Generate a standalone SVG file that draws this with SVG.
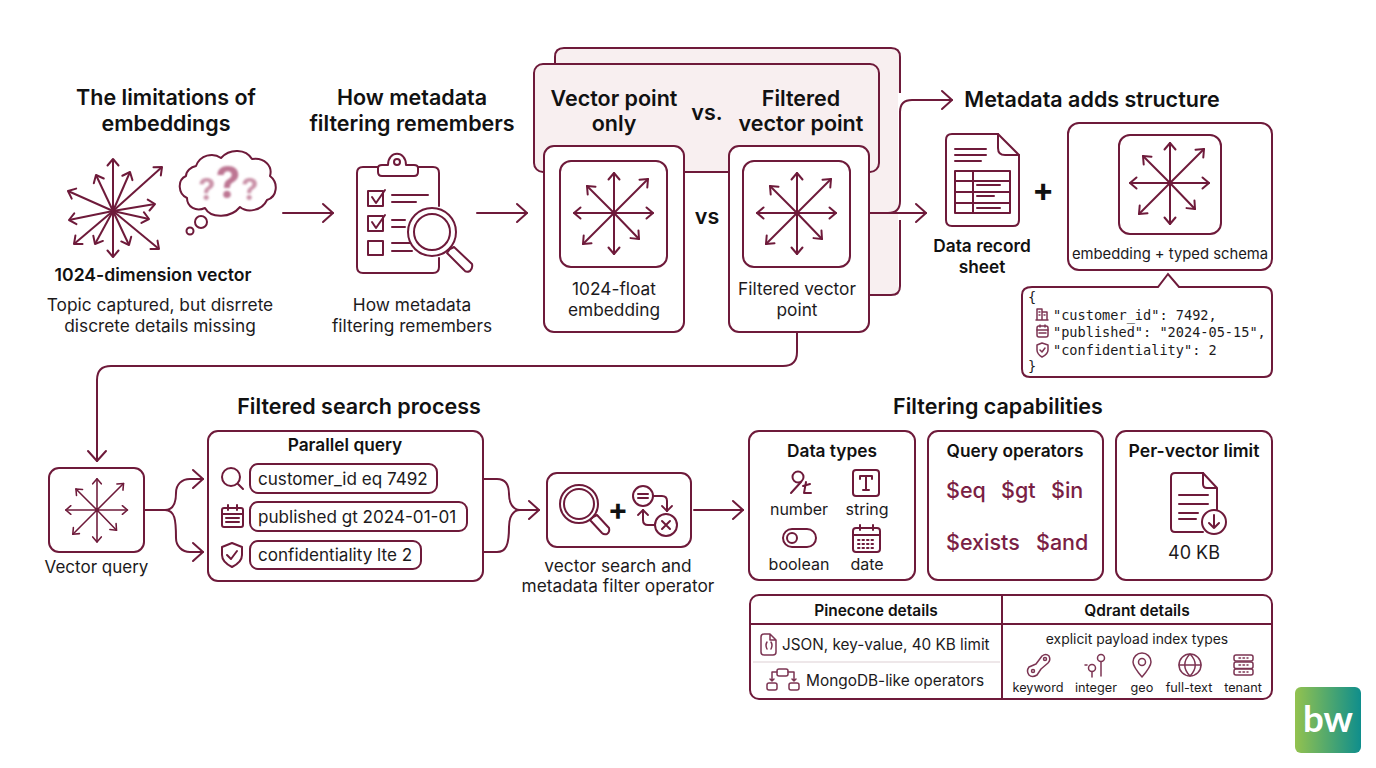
<svg xmlns="http://www.w3.org/2000/svg" xmlns:xlink="http://www.w3.org/1999/xlink" width="1376" height="768" viewBox="0 0 1376 768">
<style>
text{font-family:Inter,"Liberation Sans",sans-serif;fill:#1c1a1c;text-anchor:middle}
.t{font-size:21.5px;font-weight:600;fill:#111}
.b{font-size:17.3px;font-weight:600;fill:#111}
.s{font-size:17.3px}
.l{font-size:16px}
.xs{font-size:12.7px}
.op{font-size:21.5px;font-weight:500;fill:#7a1f45;text-anchor:start}
.m{font-family:"DejaVu Sans Mono","Liberation Mono",monospace;font-size:13.6px;text-anchor:start}
.st{text-anchor:start}
.ln,.ln path,.ln rect,.ln circle,.ln line{fill:none;stroke:#6e1a3a;stroke-width:2;stroke-linecap:round;stroke-linejoin:round}
.card{fill:#fff;stroke:#6e1a3a;stroke-width:2}
.pink{fill:#f8eff0;stroke:#6e1a3a;stroke-width:2}
.w{fill:#fff!important}
.ic,.ic path,.ic rect,.ic circle,.ic line{fill:none;stroke:#7c3553;stroke-width:1.5;stroke-linecap:round;stroke-linejoin:round}
</style>
<defs>
<marker id="arr" markerUnits="userSpaceOnUse" markerWidth="24" markerHeight="28" refX="16" refY="14" orient="auto"><path d="M6 5 L16 14 L6 23" fill="none" stroke="#6e1a3a" stroke-width="2" stroke-linecap="round" stroke-linejoin="round"/></marker>
<marker id="sm" markerUnits="userSpaceOnUse" markerWidth="16" markerHeight="16" refX="12" refY="8" orient="auto"><path d="M5.500 2.500 L12 8 L5.500 13.500" fill="none" stroke="#6e1a3a" stroke-width="2" stroke-linecap="round" stroke-linejoin="round"/></marker>
<marker id="mini" markerUnits="userSpaceOnUse" markerWidth="12" markerHeight="12" refX="9" refY="6" orient="auto"><path d="M4 1 L9 6 L4 11" fill="none" stroke="#6e1a3a" stroke-width="1.8" stroke-linecap="round" stroke-linejoin="round"/></marker>
<g id="star" fill="none" stroke="#6e1a3a" stroke-width="2" stroke-linecap="round">
<line x2="0" y2="-40" marker-end="url(#sm)"/><line x2="34" y2="-34" marker-end="url(#sm)"/><line x2="39" y2="0" marker-end="url(#sm)"/><line x2="25" y2="26" marker-end="url(#sm)"/><line x2="0" y2="41" marker-end="url(#sm)"/><line x2="-31" y2="31" marker-end="url(#sm)"/><line x2="-40" y2="0" marker-end="url(#sm)"/><line x2="-27" y2="-27" marker-end="url(#sm)"/>
<circle r="2.500" fill="#6e1a3a" stroke="none"/>
</g>
<filter id="blur" x="-30%" y="-30%" width="160%" height="160%"><feGaussianBlur stdDeviation="1.3"/></filter>
<linearGradient id="bwg" x1="0" x2="1" y1="0" y2="0"><stop offset="0" stop-color="#93c24f"/><stop offset="1" stop-color="#0f8e8c"/></linearGradient>
</defs>
<rect width="1376" height="768" fill="#fff"/>

<g id="connectors" class="ln">
<path d="M283 213H333" marker-end="url(#arr)"/>
<path d="M477 213H527" marker-end="url(#arr)"/>
<path d="M694 510H743" marker-end="url(#arr)"/>
<path d="M144 510H165C175 510 176 500 176 493C176 484 182 479 190 479H203" marker-end="url(#arr)"/>
<path d="M165 510C175 510 176 520 176 538C176 546 182 552 190 552H203" marker-end="url(#arr)"/>
<path d="M483 479H497C506 479 509 486 509 494C509 503 513 510 520 510H539" marker-end="url(#arr)"/>
<path d="M483 552H497C506 552 509 545 509 527C509 517 513 510 520 510"/>
</g>

<g id="comparison-panel">
<path d="M555 64V57Q555 48 564 48H891Q900 48 900 57V93" class="pink" fill="#f8eff0"/>
<path d="M600 60H898V295H840V172H600Z" fill="#f8eff0"/>
<rect x="534" y="64" width="345" height="108" rx="9" class="pink"/>
<path d="M900 220V286Q900 295 891 295H868" fill="none" stroke="#6e1a3a" stroke-width="2"/>
</g>

<g id="connectors-2" class="ln">
<path d="M869 213H926" marker-end="url(#arr)"/>
<path d="M888 213Q900 213 900 201V112Q900 100 912 100H952" marker-end="url(#arr)"/>
<path d="M797 332V352Q797 366 783 366H111Q97 366 97 380V461" marker-end="url(#arr)"/>
</g>

<g id="title-limits"><text class="t" x="166" y="105">The limitations of</text><text class="t" x="166" y="131">embeddings</text></g>
<g id="vector-1024">
<g fill="none" stroke="#6e1a3a" stroke-width="2" transform="translate(113 211)">
<line x2="0" y2="-52" marker-end="url(#sm)"/><line x2="17" y2="-39" marker-end="url(#sm)"/><line x2="49" y2="-44" marker-end="url(#sm)"/><line x2="42" y2="-7" marker-end="url(#sm)"/><line x2="36" y2="8" marker-end="url(#sm)"/><line x2="46" y2="38" marker-end="url(#sm)"/><line x2="16" y2="34" marker-end="url(#sm)"/><line x2="0" y2="46" marker-end="url(#sm)"/><line x2="-18" y2="33" marker-end="url(#sm)"/><line x2="-39" y2="33" marker-end="url(#sm)"/><line x2="-44" y2="9" marker-end="url(#sm)"/><line x2="-45" y2="-20" marker-end="url(#sm)"/><line x2="-17" y2="-36" marker-end="url(#sm)"/>
</g>
<text class="b" x="153" y="281" style="font-size:17.6px">1024-dimension vector</text>
<text class="s" x="160" y="311">Topic captured, but disrrete</text>
<text class="s" x="160" y="332">discrete details missing</text>
</g>
<g id="thought-cloud">
<path class="ln" d="M196 166C200 155 213 152 221 158C230 148 246 149 252 159C264 157 273 166 270 176C279 183 277 197 267 200C262 211 247 213 240 207C231 218 211 219 205 208C196 212 187 207 187 198C178 194 177 180 186 176C186 171 191 167 196 166Z"/>
<circle class="ln" cx="201" cy="222" r="6"/><circle class="ln" cx="190" cy="231" r="3.5"/>
<g filter="url(#blur)" font-weight="700"><text x="207" y="200" style="font-size:30px;fill:#cb93a9">?</text><text x="228" y="198" style="font-size:44px;fill:#bd7693">?</text><text x="250" y="200" style="font-size:30px;fill:#cb93a9">?</text></g>
</g>

<g id="title-metadata"><text class="t" x="412" y="105">How metadata</text><text class="t" x="412" y="131">filtering remembers</text></g>
<g id="clipboard">
<g class="ln">
<path d="M378 167H363Q357 167 357 173V267Q357 273 363 273H433Q439 273 439 267V258"/>
<path d="M418 167H433Q439 167 439 173V206"/>
<path d="M382 176Q378 176 378 172V168Q378 165 382 165H388C388 150 406 150 406 165H414Q418 165 418 168V172Q418 176 414 176Z"/>
<circle cx="397" cy="162" r="3"/>
<rect x="368" y="191" width="15" height="15"/><path d="M372 197L376 203L385 190"/>
<rect x="368" y="216" width="15" height="15"/><path d="M372 222L376 228L385 215"/>
<rect x="368" y="241" width="15" height="14"/>
<path d="M392 195H428M392 202H416M392 220H405M392 227H405M392 243H410M392 251H412"/>
<circle cx="432" cy="232" r="24" class="w"/><circle cx="432" cy="232" r="18"/>
<path d="M450 249L454 247L472 264Q473 268 470 271Q466 273 464 270L447 253Z"/>
</g>
<text class="s" x="412" y="311">How metadata</text><text class="s" x="412" y="332">filtering remembers</text>
</g>

<g id="comparison-titles">
<text class="t" x="614" y="106">Vector point</text><text class="t" x="614" y="131">only</text>
<text class="t" x="707" y="120">vs.</text>
<text class="t" x="801" y="106">Filtered</text><text class="t" x="801" y="131">vector point</text>
<text class="t" x="707" y="224">vs</text>
</g>
<g id="card-vector-only">
<rect x="544" y="146" width="140" height="186" rx="10" class="card"/>
<rect x="560" y="161" width="107" height="106" rx="11" class="card"/>
<use href="#star" x="614" y="213"/>
<text class="s" x="614" y="295">1024-float</text><text class="s" x="614" y="316">embedding</text>
</g>
<g id="card-filtered">
<rect x="729" y="146" width="140" height="186" rx="10" class="card"/>
<rect x="743" y="161" width="107" height="106" rx="11" class="card"/>
<use href="#star" x="797" y="213"/>
<text class="s" x="797" y="295">Filtered vector</text><text class="s" x="797" y="316">point</text>
</g>

<g id="title-structure"><text class="t" x="1092" y="107">Metadata adds structure</text></g>
<g id="data-record">
<g class="ln">
<path d="M998 134H952Q946 134 946 140V220Q946 226 952 226H1013Q1019 226 1019 220V155Z"/>
<path d="M998 134V148Q998 155 1005 155H1019"/>
<path d="M955 149H986M955 155H986M955 161H981"/>
<rect x="955" y="171" width="55" height="42"/>
<path d="M955 181H1010M955 192H1010M955 203H1010M973 171V213"/>
<path d="M977 185H1000M977 196H994M977 208H1000" stroke-width="1.6"/>
</g>
<text class="b" x="982" y="252">Data record</text><text class="b" x="982" y="273">sheet</text>
</g>
<text id="plus-1" x="1043" y="201" style="font-size:32px;font-weight:700;fill:#111">+</text>
<g id="card-schema">
<rect x="1068" y="123" width="204" height="147" rx="11" class="card"/>
<rect x="1119" y="135" width="102" height="99" rx="11" class="card"/>
<use href="#star" x="1170" y="183"/>
<text x="1170" y="259" style="font-size:14.8px">embedding + typed schema</text>
</g>
<g id="json-callout">
<path class="card" d="M1032 287H1158L1168 274L1179 287H1264Q1272 287 1272 295V369Q1272 377 1264 377H1030Q1022 377 1022 369V295Q1022 287 1032 287Z"/>
<text class="m" x="1028" y="302">{</text>
<text class="m" x="1053" y="320">"customer_id": 7492,</text>
<text class="m" x="1053" y="337">"published": "2024-05-15",</text>
<text class="m" x="1053" y="355">"confidentiality": 2</text>
<text class="m" x="1028" y="371">}</text>
<g class="ic">
<path d="M1037 320V309H1042V320M1042 312H1047V320M1036 320H1048M1039 312H1040M1039 315H1040M1044 315H1045"/>
<rect x="1037" y="326" width="11" height="11" rx="2"/><path d="M1037 330H1048M1040 325V327M1045 325V327M1039 333H1046"/>
<path d="M1042 343L1048 345V350Q1048 354 1042 357Q1037 354 1037 350V345Z"/><path d="M1040 350L1042 352L1045 348"/>
</g>
</g>

<g id="vector-query">
<rect x="49" y="468" width="95" height="84" rx="10" class="card"/>
<use href="#star" transform="translate(97 510) scale(.78)"/>
<text x="96.500" y="573" style="font-size:17px">Vector query</text>
</g>

<g id="title-process"><text class="t" x="359" y="414">Filtered search process</text></g>
<g id="parallel-query">
<rect x="208" y="431" width="275" height="150" rx="10" class="card"/>
<text class="b" x="345" y="451">Parallel query</text>
<rect x="250" y="464" width="187" height="29" rx="8" class="card"/>
<rect x="250" y="502" width="217" height="29" rx="8" class="card"/>
<rect x="250" y="541" width="171" height="28" rx="8" class="card"/>
<text class="st" x="258" y="484.500" style="font-size:17.1px">customer_id eq 7492</text>
<text class="st" x="258" y="522.500" style="font-size:17.1px">published gt 2024-01-01</text>
<text class="st" x="258" y="561" style="font-size:17.1px">confidentiality lte 2</text>
<g class="ln">
<circle cx="231" cy="477" r="9"/><path d="M238 484L243 489"/>
<rect x="222" y="508" width="21" height="19" rx="2"/><path d="M222 514H243M228 505V510M237 505V510M226 518H239M226 522H239" stroke-width="1.6"/>
<path d="M232 543L242 547V555Q242 562 232 567Q222 562 222 555V547Z"/><path d="M227 555L231 559L237 551"/>
</g>
</g>

<g id="search-filter">
<rect x="547" y="473" width="144" height="74" rx="10" class="card"/>
<g class="ln">
<circle cx="579" cy="504" r="19"/><circle cx="579" cy="504" r="15"/>
<path d="M593 517L597 515L609 528Q610 532 607 534Q604 535 602 533L590 520Z"/>
<circle cx="643" cy="496" r="10"/><path d="M638 494H648M638 498H648"/>
<circle cx="666" cy="525" r="11"/><path d="M662 521L670 529M670 521L662 529"/>
<path d="M653 496H662Q667 496 667 501V511" marker-end="url(#mini)"/>
<path d="M655 525H648Q643 525 643 520V510" marker-end="url(#mini)"/>
</g>
<text x="618" y="520" style="font-size:30px;font-weight:700;fill:#111">+</text>
<text class="s" x="618" y="572">vector search and</text>
<text class="s" x="618" y="592">metadata filter operator</text>
</g>

<g id="title-capabilities"><text class="t" x="998" y="414">Filtering capabilities</text></g>
<g id="data-types">
<rect x="749" y="431" width="166" height="149" rx="10" class="card"/>
<text class="b" x="832" y="457">Data types</text>
<g class="ln">
<circle cx="798" cy="477" r="5.5"/><path d="M801 482L791 493M806 482L804 493H811M803 486L810 484"/>
<rect x="853" y="470" width="26" height="26" rx="3"/><path d="M860 476H872V479M860 476V479M866 476V490M863 490H869"/>
<rect x="783" y="529" width="33" height="18" rx="9"/><circle cx="792" cy="538" r="5"/>
<rect x="853" y="528" width="27" height="24" rx="3"/><path d="M853 535H880M860 525V530M873 525V530"/><path d="M858 540H875M858 544H875M858 548H875" stroke-width="1.6" stroke-dasharray="1.500 3"/>
</g>
<text class="l" x="799" y="515">number</text><text class="l" x="867" y="515">string</text>
<text class="l" x="799" y="570">boolean</text><text class="l" x="867" y="570">date</text>
</g>
<g id="query-operators">
<rect x="928" y="431" width="175" height="149" rx="10" class="card"/>
<text class="b" x="1015" y="457">Query operators</text>
<text class="op" x="946" y="498">$eq</text><text class="op" x="1001" y="498">$gt</text><text class="op" x="1051" y="498">$in</text>
<text class="op" x="946" y="550">$exists</text><text class="op" x="1036" y="550">$and</text>
</g>
<g id="per-vector-limit">
<rect x="1116" y="431" width="156" height="149" rx="10" class="card"/>
<text class="b" x="1194" y="457" style="font-size:17.6px">Per-vector limit</text>
<g class="ln">
<path d="M1203 473H1175Q1171 473 1171 477V528Q1171 532 1175 532H1203"/>
<path d="M1203 473L1217 488V510M1203 473V484Q1203 488 1207 488H1217"/>
<path d="M1179 495H1208M1179 504H1208M1179 513H1198M1179 519H1196"/>
<circle cx="1214" cy="522" r="12" class="w"/><path d="M1214 515V528M1209 523L1214 528L1219 523"/>
</g>
<text x="1194" y="559" style="font-size:18px">40 KB</text>
</g>

<g id="details-table">
<rect x="750" y="595" width="522" height="104" rx="9" class="card"/>
<path d="M750 624H1272M1002 595V699" stroke="#6e1a3a" stroke-width="2" fill="none"/>
<path d="M753 662H1000" stroke="#e9dfe2" stroke-width="1.5" fill="none"/>
<text x="876" y="616" style="font-size:15.5px;font-weight:600;fill:#111">Pinecone details</text>
<text x="1137" y="616" style="font-size:15.5px;font-weight:600;fill:#111">Qdrant details</text>
<text class="st" x="782" y="650" style="font-size:15.3px">JSON, key-value, 40 KB limit</text>
<text class="st" x="806" y="686" style="font-size:15.4px">MongoDB-like operators</text>
<text x="1137" y="644" style="font-size:13.9px">explicit payload index types</text>
<text class="xs" x="1038" y="692">keyword</text><text class="xs" x="1096" y="692">integer</text><text class="xs" x="1142" y="692">geo</text><text class="xs" x="1189" y="692">full-text</text><text class="xs" x="1243" y="692">tenant</text>
<g class="ic">
<path d="M770 634H764Q761 634 761 637V652Q761 655 764 655H773Q776 655 776 652V640ZM770 634V640H776"/><path d="M767 642Q765 645 767 649M771 642Q773 645 771 649"/>
<rect x="777" y="669" width="11" height="7" rx="2"/><rect x="767" y="683" width="10" height="7" rx="2"/><rect x="789" y="683" width="10" height="7" rx="2"/>
<path d="M777 672H772V681M770 679L772 681L774 679M788 672H794V681M792 679L794 681L796 679"/>
<path d="M1029 667L1036 664L1042 656Q1046 653 1049 656Q1051 660 1048 663L1041 669L1037 675Q1032 678 1029 675Q1026 671 1029 667Z"/><circle cx="1033" cy="671" r="1.5"/><circle cx="1045" cy="659" r="1.5"/>
<circle cx="1092" cy="668" r="3.5"/><path d="M1092 672V677M1085 665H1087"/><circle cx="1101" cy="658" r="3.5"/><path d="M1101 662V676"/>
<path d="M1142 677C1136 670 1133 666 1133 662A9 9 0 0 1 1151 662C1151 666 1148 670 1142 677Z"/><circle cx="1142" cy="662" r="3.5"/>
<circle cx="1190" cy="665" r="11"/><path d="M1179 665H1201M1190 654C1183 661 1183 669 1190 676C1197 669 1197 661 1190 654"/>
<rect x="1234" y="655" width="19" height="6" rx="2"/><rect x="1234" y="662" width="19" height="6.500" rx="2"/><rect x="1234" y="669" width="19" height="6" rx="2"/><path d="M1239 658H1248M1239 665H1248M1239 672H1248" stroke-dasharray="1.500 2.500" stroke-width="1"/>
</g>
</g>

<g id="bw-logo">
<rect x="1295" y="687" width="66" height="66" rx="6" fill="url(#bwg)"/>
<text x="1328" y="732" textLength="50" lengthAdjust="spacingAndGlyphs" style="font-family:Lato,'Liberation Sans',sans-serif;font-size:36px;font-weight:700;fill:#fff">bw</text>
</g>
</svg>
